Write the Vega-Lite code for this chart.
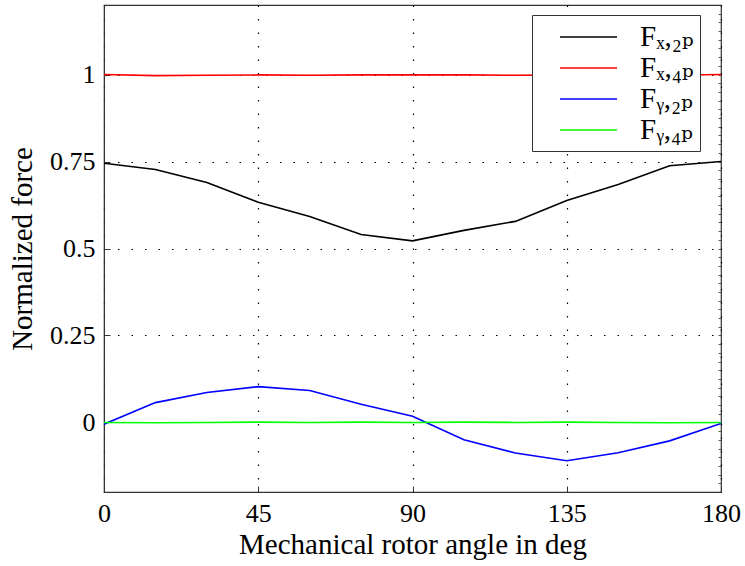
{
  "$schema": "https://vega.github.io/schema/vega-lite/v6.json",
  "width": 617,
  "height": 487,
  "autosize": {"type": "none"},
  "padding": {"left": 104, "top": 5, "right": 24, "bottom": 74},
  "background": "white",
  "config": {
    "font": "Liberation Serif",
    "view": {"stroke": "#333333", "strokeWidth": 1.2},
    "axis": {
      "labelFont": "Liberation Serif",
      "titleFont": "Liberation Serif",
      "labelFontSize": 26,
      "titleFontSize": 29,
      "titleFontWeight": "normal",
      "labelColor": "black",
      "titleColor": "black",
      "domainColor": "#333333",
      "tickColor": "#333333",
      "tickSize": -6,
      "gridColor": "black",
      "gridDash": [1.5, 12],
      "gridOpacity": 1,
      "gridWidth": 1.2
    }
  },
  "data": {
    "values": [
      {"angle": 0, "series": "Fx2p", "force": 0.745},
      {"angle": 15, "series": "Fx2p", "force": 0.727},
      {"angle": 30, "series": "Fx2p", "force": 0.69},
      {"angle": 45, "series": "Fx2p", "force": 0.633},
      {"angle": 60, "series": "Fx2p", "force": 0.592},
      {"angle": 75, "series": "Fx2p", "force": 0.54},
      {"angle": 90, "series": "Fx2p", "force": 0.522},
      {"angle": 105, "series": "Fx2p", "force": 0.552},
      {"angle": 120, "series": "Fx2p", "force": 0.578},
      {"angle": 135, "series": "Fx2p", "force": 0.638},
      {"angle": 150, "series": "Fx2p", "force": 0.684},
      {"angle": 165, "series": "Fx2p", "force": 0.738},
      {"angle": 180, "series": "Fx2p", "force": 0.75},
      {"angle": 0, "series": "Fx4p", "force": 1.0},
      {"angle": 15, "series": "Fx4p", "force": 0.997},
      {"angle": 30, "series": "Fx4p", "force": 0.998},
      {"angle": 45, "series": "Fx4p", "force": 0.999},
      {"angle": 60, "series": "Fx4p", "force": 0.998},
      {"angle": 75, "series": "Fx4p", "force": 0.999},
      {"angle": 90, "series": "Fx4p", "force": 0.999},
      {"angle": 105, "series": "Fx4p", "force": 0.999},
      {"angle": 120, "series": "Fx4p", "force": 0.998},
      {"angle": 135, "series": "Fx4p", "force": 0.999},
      {"angle": 150, "series": "Fx4p", "force": 0.999},
      {"angle": 165, "series": "Fx4p", "force": 0.998},
      {"angle": 180, "series": "Fx4p", "force": 1.0},
      {"angle": 0, "series": "Fy2p", "force": -0.005},
      {"angle": 15, "series": "Fy2p", "force": 0.057},
      {"angle": 30, "series": "Fy2p", "force": 0.086},
      {"angle": 45, "series": "Fy2p", "force": 0.103},
      {"angle": 60, "series": "Fy2p", "force": 0.092},
      {"angle": 75, "series": "Fy2p", "force": 0.052},
      {"angle": 90, "series": "Fy2p", "force": 0.018},
      {"angle": 105, "series": "Fy2p", "force": -0.05},
      {"angle": 120, "series": "Fy2p", "force": -0.088},
      {"angle": 135, "series": "Fy2p", "force": -0.11},
      {"angle": 150, "series": "Fy2p", "force": -0.087},
      {"angle": 165, "series": "Fy2p", "force": -0.053},
      {"angle": 180, "series": "Fy2p", "force": -0.003},
      {"angle": 0, "series": "Fy4p", "force": 0.0},
      {"angle": 15, "series": "Fy4p", "force": -0.001},
      {"angle": 30, "series": "Fy4p", "force": 0.0},
      {"angle": 45, "series": "Fy4p", "force": 0.001},
      {"angle": 60, "series": "Fy4p", "force": 0.0},
      {"angle": 75, "series": "Fy4p", "force": 0.001},
      {"angle": 90, "series": "Fy4p", "force": 0.0},
      {"angle": 105, "series": "Fy4p", "force": 0.001},
      {"angle": 120, "series": "Fy4p", "force": 0.0},
      {"angle": 135, "series": "Fy4p", "force": 0.001},
      {"angle": 150, "series": "Fy4p", "force": 0.0},
      {"angle": 165, "series": "Fy4p", "force": -0.001},
      {"angle": 180, "series": "Fy4p", "force": 0.0}
    ]
  },
  "resolve": {"axis": {"y": "independent"}, "scale": {"y": "shared"}},
  "layer": [
    {
      "mark": {"type": "line", "strokeWidth": 1.6, "clip": true},
      "encoding": {
        "x": {
          "field": "angle",
          "type": "quantitative",
          "scale": {"domain": [0, 180], "nice": false},
          "axis": {"values": [0, 45, 90, 135, 180], "title": "Mechanical rotor angle in deg", "labelPadding": 14, "titlePadding": 4, "labelFlush": false}
        },
        "y": {
          "field": "force",
          "type": "quantitative",
          "scale": {"domain": [-0.2, 1.2], "nice": false, "zero": false},
          "axis": {"values": [0, 0.25, 0.5, 0.75, 1], "format": "~g", "title": "Normalized force", "labelPadding": 15, "titlePadding": 12}
        },
        "color": {
          "field": "series",
          "type": "nominal",
          "scale": {"domain": ["Fx2p", "Fx4p", "Fy2p", "Fy4p"], "range": ["#000000", "#ff0000", "#0000ff", "#00ff00"]},
          "legend": {
            "title": null,
            "orient": "none",
            "legendX": 428,
            "legendY": 10,
            "direction": "vertical",
            "fillColor": "white",
            "strokeColor": "#333333",
            "padding": 6,
            "symbolType": "M0.4,0H4.2",
            "symbolSize": 900,
            "symbolStrokeWidth": 1.6,
            "labelFont": "Liberation Serif, DejaVu Serif, DejaVu Sans",
            "labelFontSize": 29,
            "labelColor": "black",
            "rowPadding": 0,
            "labelOffset": 70,
            "labelExpr": "datum.label === 'Fx2p' ? 'Fₓ,₂ₚ' : datum.label === 'Fx4p' ? 'Fₓ,₄ₚ' : datum.label === 'Fy2p' ? 'Fᵧ,₂ₚ' : 'Fᵧ,₄ₚ'"
          }
        }
      }
    },
    {
      "mark": {"type": "line", "strokeWidth": 1, "opacity": 0, "clip": true},
      "encoding": {
        "x": {"field": "angle", "type": "quantitative"},
        "y": {
          "field": "force",
          "type": "quantitative",
          "axis": {
            "orient": "right",
            "values": [-0.175, -0.15, -0.125, -0.1, -0.075, -0.05, -0.025, 0, 0.025, 0.05, 0.075, 0.1, 0.125, 0.15, 0.175, 0.2, 0.225, 0.25, 0.275, 0.3, 0.325, 0.35, 0.375, 0.4, 0.425, 0.45, 0.475, 0.5, 0.525, 0.55, 0.575, 0.6, 0.625, 0.65, 0.675, 0.7, 0.725, 0.75, 0.775, 0.8, 0.825, 0.85, 0.875, 0.9, 0.925, 0.95, 0.975, 1, 1.025, 1.05, 1.075, 1.1, 1.125, 1.15, 1.175],
            "labels": false,
            "title": null,
            "grid": false,
            "domain": false,
            "tickSize": -3,
            "tickWidth": 0.8
          }
        },
        "detail": {"field": "series", "type": "nominal"}
      }
    }
  ]
}
